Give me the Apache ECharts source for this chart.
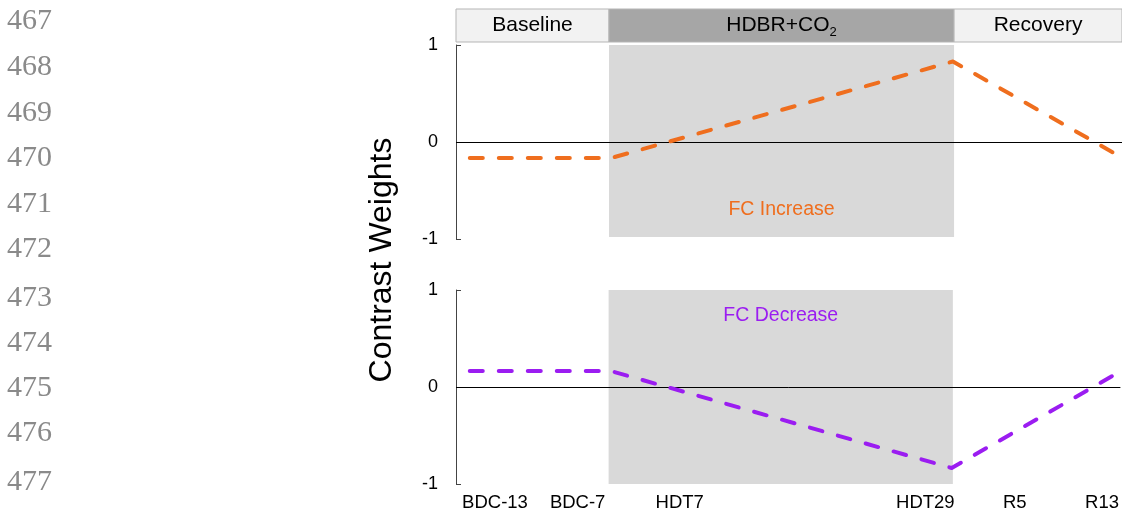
<!DOCTYPE html>
<html>
<head>
<meta charset="utf-8">
<script src="https://cdn.jsdelivr.net/npm/echarts@6/dist/echarts.min.js"></script>
<style>html,body{margin:0;padding:0;background:#fff;}#c{width:1122px;height:515px;}</style>
</head>
<body>
<div id="c"></div>
<script>
// ---- data ----
const lineNumbers = ['467','468','469','470','471','472','473','474','475','476','477'];
const lineNumberY = [21, 67, 113, 158, 204, 249, 298, 343, 388, 433, 482];
const xMin = -13.3, xMax = 44.6;               // days relative to HDBR start
const phaseNames = ['Baseline', 'HDBR+CO', 'Recovery'];
const phaseStart = [-13.3, 0, 30];
const phaseEnd = [0, 30, 44.6];
const sessionLabels = ['BDC-13', 'BDC-7', 'HDT7', 'HDT29', 'R5', 'R13'];
const sessionPos = [-9.9, -2.7, 6.2, 27.6, 35.4, 43.0];
const weightX = [-12.1, 0.2, 29.9, 44.0];
const fcIncrease = [-0.165, -0.165, 0.83, -0.12];
const fcDecrease = [0.165, 0.165, -0.835, 0.12];
const yTicks = [-1, 0, 1];

const FONT = "'Liberation Sans', Arial, Helvetica, sans-serif";
const ORANGE = '#EF6E1E', PURPLE = '#9B1DF1';

const chart = echarts.init(document.getElementById('c'), null, {renderer: 'canvas'});

const gridL = 456;
const grids = [
  {left: gridL, right: 0, top: 9, height: 33},
  {left: gridL, right: 0, top: 45, height: 194},
  {left: gridL, right: 0, top: 290, height: 194}
];

function xAx(i, withLabels) {
  return {
    type: 'value', gridIndex: i, min: xMin, max: xMax,
    axisLine: {show: false}, axisTick: {show: false}, splitLine: {show: false},
    axisLabel: withLabels ? {
      show: true, customValues: sessionPos, margin: 9,
      color: '#000', fontFamily: FONT, fontSize: 18.5,
      formatter: v => {
        const k = sessionPos.findIndex(p => Math.abs(p - v) < 1e-6);
        return k >= 0 ? sessionLabels[k] : '';
      }
    } : {show: false}
  };
}
function yAx(i) {
  return {
    type: 'value', gridIndex: i, min: -1, max: 1, interval: 1,
    axisLine: {show: true, onZero: false, lineStyle: {color: '#444', width: 1}},
    axisTick: {show: true, inside: true, length: 5, lineStyle: {color: '#444'}},
    splitLine: {show: false},
    axisLabel: {color: '#000', fontFamily: FONT, fontSize: 18, margin: 18,
      formatter: v => yTicks.includes(v) ? String(v) : ''}
  };
}

const headerAreas = phaseNames.map((n, i) => [
  {xAxis: phaseStart[i], yAxis: 0,
   name: n,
   itemStyle: {color: i === 1 ? '#a6a6a6' : '#f2f2f2', borderColor: '#b5b5b5', borderWidth: 1},
   label: {formatter: i === 1 ? '{a|HDBR+CO}{s|2}' : n}},
  {xAxis: phaseEnd[i], yAxis: 1}
]);

function lineSeries(gi, data, color, labelText, labelY) {
  return {
    type: 'line', xAxisIndex: gi, yAxisIndex: gi,
    data: weightX.map((x, k) => [x, data[k]]),
    symbol: 'none', smooth: false,
    lineStyle: {color: color, width: 4, type: [13, 16], cap: 'round', join: 'round'},
    z: 5,
    markArea: {
      silent: true,
      itemStyle: {color: '#d9d9d9'},
      data: [[{xAxis: 0, yAxis: gi === 1 ? -0.98 : -1}, {xAxis: 30, yAxis: gi === 1 ? 1.03 : 1}]]
    },
    markLine: {
      silent: true, symbol: 'none', animation: false,
      lineStyle: {color: '#000', width: 1, type: 'solid'},
      label: {show: false},
      data: [{yAxis: 0}]
    },
    markPoint: {
      silent: true, symbol: 'circle', symbolSize: 0,
      label: {show: true, formatter: labelText, color: color, fontFamily: FONT, fontSize: 19.5, position: 'inside'},
      data: [{coord: [15.0, labelY]}]
    }
  };
}

const option = {
  animation: false,
  backgroundColor: '#fff',
  grid: grids,
  xAxis: [xAx(0, false), xAx(1, false), xAx(2, true)],
  yAxis: [
    {type: 'value', gridIndex: 0, min: 0, max: 1, show: false},
    yAx(1), yAx(2)
  ],
  series: [
    {
      type: 'line', xAxisIndex: 0, yAxisIndex: 0, data: [], silent: true,
      markArea: {
        silent: true,
        label: {show: true, position: 'inside', color: '#000', fontFamily: FONT, fontSize: 21,
          rich: {a: {fontSize: 21, fontFamily: FONT, color: '#000'},
                 s: {fontSize: 13, fontFamily: FONT, color: '#000', padding: [14, 0, 0, 0]}}},
        data: headerAreas
      }
    },
    lineSeries(1, fcIncrease, ORANGE, 'FC Increase', -0.70),
    lineSeries(2, fcDecrease, PURPLE, 'FC Decrease', 0.735)
  ],
  graphic: [
    {type: 'text', x: 382, y: 260, rotation: Math.PI / 2,
     style: {text: 'Contrast Weights', fill: '#000', font: "32px " + FONT, textAlign: 'center', textVerticalAlign: 'middle'}}
  ].concat(lineNumbers.map((t, i) => ({
    type: 'text', x: 7, y: lineNumberY[i],
    style: {text: t, fill: '#8a8a8a', font: "30px 'Liberation Serif', 'Times New Roman', serif", textAlign: 'left', textVerticalAlign: 'middle'}
  })))
};
chart.setOption(option);
</script>
</body>
</html>
